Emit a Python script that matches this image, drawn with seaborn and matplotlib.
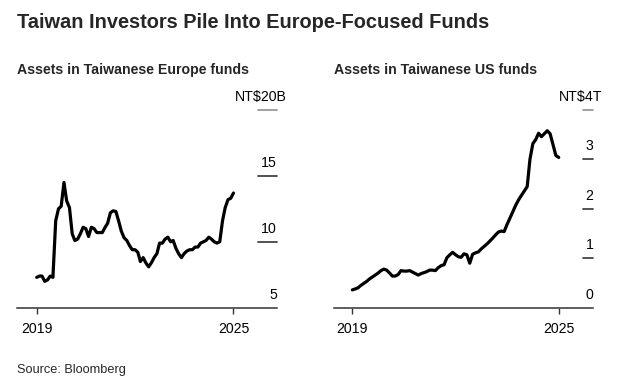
import numpy as np
import pandas as pd
import seaborn as sns
import matplotlib.pyplot as plt

sns.set_style("white")
plt.rcParams['font.family'] = ['Liberation Sans', 'DejaVu Sans']

# monthly, Jan 2019 .. Jan 2025
months = pd.date_range("2019-01-01", "2025-01-01", freq="MS")

europe_bn = [7.3, 7.4, 7.4, 7.0, 7.1, 7.4, 7.3, 11.6, 12.5, 12.7, 14.5, 13.1,
             12.6, 10.6, 10.1, 10.2, 10.6, 11.1, 11.0, 10.4, 11.1, 11.0, 10.7, 10.7,
             10.7, 11.1, 11.4, 12.2, 12.35, 12.3, 11.6, 10.8, 10.3, 10.1, 9.7, 9.4,
             9.4, 9.2, 8.5, 8.8, 8.4, 8.1, 8.4, 8.8, 9.1, 9.9, 9.9, 10.2,
             10.35, 10.0, 10.1, 9.5, 9.1, 8.8, 9.1, 9.3, 9.4, 9.4, 9.6, 9.6,
             9.9, 10.0, 10.1, 10.35, 10.2, 10.0, 9.9, 10.0, 11.6, 12.6, 13.2, 13.3,
             13.7]

us_tn = [0.36, 0.38, 0.40, 0.45, 0.49, 0.53, 0.58, 0.62, 0.66, 0.70, 0.75, 0.78,
         0.76, 0.70, 0.64, 0.64, 0.67, 0.75, 0.74, 0.74, 0.75, 0.72, 0.69, 0.66,
         0.69, 0.71, 0.73, 0.76, 0.76, 0.75, 0.81, 0.85, 0.87, 1.01, 1.07, 1.12,
         1.07, 1.03, 1.02, 1.09, 1.07, 0.90, 1.08, 1.11, 1.13, 1.19, 1.24, 1.29,
         1.35, 1.41, 1.47, 1.53, 1.55, 1.54, 1.68, 1.81, 1.94, 2.07, 2.18, 2.27,
         2.36, 2.45, 3.00, 3.32, 3.40, 3.53, 3.46, 3.52, 3.58, 3.52, 3.30, 3.08,
         3.04]

eu_ticks = [5, 10, 15, 20]
eu_labels = ["5", "10", "15", "NT$20B"]
us_ticks = [0, 1, 2, 3, 4]
us_labels = ["0", "1", "2", "3", "NT$4T"]
year_ticks = ["2019", "2025"]

df_eu = pd.DataFrame({"date": months, "value": europe_bn})
df_us = pd.DataFrame({"date": months, "value": us_tn})

fig = plt.figure(figsize=(6.37, 3.88), dpi=100)
ax1 = fig.add_axes([0.0267, 0.2070, 0.4082, 0.5095])
ax2 = fig.add_axes([0.5243, 0.2070, 0.4074, 0.5095])

def style_panel(ax, df, ticks, labels, unit_w, ylim, xlim, glen):
    sns.lineplot(data=df, x="date", y="value", ax=ax, color="black",
                 linewidth=2.3, solid_capstyle="round")
    ax.set_ylim(*ylim)
    ax.set_xlim(pd.Timestamp(xlim[0]), pd.Timestamp(xlim[1]))
    for s in ["top", "left", "right"]:
        ax.spines[s].set_visible(False)
    ax.spines["bottom"].set_color("#333333")
    ax.spines["bottom"].set_linewidth(1.1)
    ax.set_yticks([])
    ax.set_xticks([pd.Timestamp(y + "-01-01") for y in year_ticks])
    ax.set_xticklabels(year_ticks, fontsize=10.2, color="black")
    ax.tick_params(axis="x", length=4, width=1, color="#333333", pad=6.5, bottom=True)
    ax.set_xlabel("")
    ax.set_ylabel("")
    for t, lab in zip(ticks, labels):
        top = t == ticks[-1]
        if t != ticks[0]:
            ax.axhline(t, xmin=1 - glen, xmax=1, color="#999999" if top else "#444444",
                       linewidth=1.3, clip_on=False)
        # the unit letter hangs past the number column
        ax.annotate(lab, xy=(1, t), xycoords=("axes fraction", "data"),
                    xytext=(unit_w if top else 0, 6.5), textcoords="offset points",
                    ha="right", va="baseline", fontsize=10.2, color="black")

style_panel(ax1, df_eu, eu_ticks, eu_labels, 6.8, (5, 20),
            ("2018-05-27", "2026-05-01"), 0.072)
style_panel(ax2, df_us, us_ticks, us_labels, 6.2, (0, 4),
            ("2018-06-20", "2026-01-05"), 0.04)

fig.text(17 / 637, 1 - 27.5 / 388, "Taiwan Investors Pile Into Europe-Focused Funds",
         fontsize=14.4, fontweight="bold", ha="left", va="baseline")
fig.text(17 / 637, 1 - 74 / 388, "Assets in Taiwanese Europe funds",
         fontsize=10.2, fontweight="bold", ha="left", va="baseline")
fig.text(334 / 637, 1 - 74 / 388, "Assets in Taiwanese US funds",
         fontsize=10.2, fontweight="bold", ha="left", va="baseline")
fig.text(17 / 637, 1 - 373 / 388, "Source: Bloomberg",
         fontsize=9.2, ha="left", va="baseline")

fig.savefig("out.png", dpi=100)
